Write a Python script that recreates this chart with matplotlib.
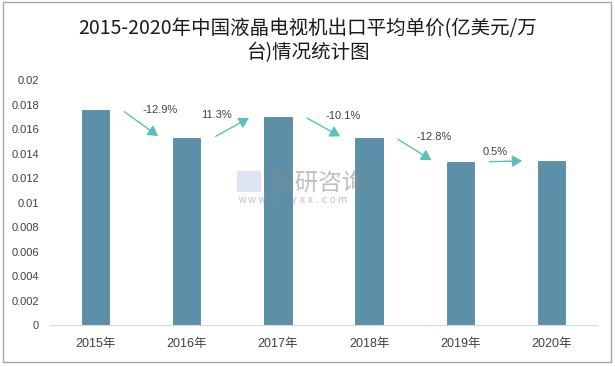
import matplotlib
matplotlib.use("Agg")
import matplotlib.pyplot as plt
from matplotlib.patches import Rectangle, FancyArrowPatch

plt.rcParams['font.family'] = ['Liberation Sans', 'Noto Sans CJK SC', 'DejaVu Sans']

years = ["2015年", "2016年", "2017年", "2018年", "2019年", "2020年"]
prices = [0.01755, 0.01529, 0.01701, 0.01529, 0.01333, 0.0134]
changes = ["-12.9%", "11.3%", "-10.1%", "-12.8%", "0.5%"]
yticks = [0, 0.002, 0.004, 0.006, 0.008, 0.01, 0.012, 0.014, 0.016, 0.018, 0.02]
ytick_labels = ["0", "0.002", "0.004", "0.006", "0.008", "0.01", "0.012", "0.014", "0.016", "0.018", "0.02"]
title = "2015-2020年中国液晶电视机出口平均单价(亿美元/万\n台)情况统计图"

fig = plt.figure(figsize=(6.15, 3.67), dpi=100)
fig.patches.append(Rectangle((0.005, 0.013), 0.988, 0.982, transform=fig.transFigure,
                             fill=False, edgecolor="#a6a6a6", linewidth=1.0))
ax = fig.add_axes([0.0813, 0.1144, 0.8894, 0.6676])

x = list(range(len(years)))
ax.bar(x, prices, width=0.3, color="#5b90a8", edgecolor="#4a7d94", linewidth=0.5, zorder=2)
ax.set_xlim(-0.5, len(years) - 0.5)
ax.set_ylim(0, 0.02)
ax.set_yticks(yticks)
ax.set_yticklabels(ytick_labels, fontsize=8, color="#404040")
ax.set_xticks(x)
ax.set_xticklabels(years, fontsize=9, color="#404040")
ax.tick_params(axis='both', length=0)
ax.tick_params(axis='y', pad=8)
ax.tick_params(axis='x', pad=9)
for s in ["top", "right", "left"]:
    ax.spines[s].set_visible(False)
ax.spines["bottom"].set_color("#d9d9d9")

teal = "#5cbfb8"
for i, ch in enumerate(changes):
    v0, v1 = prices[i], prices[i + 1]
    arr = FancyArrowPatch((i + 0.29, v0), (i + 0.71, v1), arrowstyle="-|>,head_length=6,head_width=3.5",
                          color=teal, linewidth=1.0, mutation_scale=1, zorder=3)
    ax.add_patch(arr)
    pct = float(ch.strip('%'))
    if abs(pct) < 2:
        lx, ly = i + 0.38, max(v0, v1) + 0.0007
    elif pct < 0:
        lx, ly = i + 0.71, max(v0, v1) + 0.00003
    else:
        lx, ly = i + 0.33, max(v0, v1) + 0.0001
    ax.text(lx, ly, ch, ha="center", va="center", fontsize=8, color="#404040", zorder=4)

# watermark
fig.text(0.440, 0.497, "智研咨询", fontsize=17, color="#8c8c8c", alpha=0.55,
         family=["Noto Sans CJK SC"], ha="left", va="center")
fig.text(0.387, 0.455, "w w w . c h y x x . c o m", fontsize=7.5, color="#8c8c8c", alpha=0.55,
         ha="left", va="center")
fig.patches.append(Rectangle((0.386, 0.478), 0.038, 0.055, transform=fig.transFigure,
                             facecolor="#b7c3e0", alpha=0.45, edgecolor="none", zorder=5))

fig.text(0.5, 0.89, title, ha="center", va="center", fontsize=14, color="#1a1a1a",
         family=["Noto Sans CJK SC"], linespacing=1.2)

fig.savefig("out.png", dpi=100)
